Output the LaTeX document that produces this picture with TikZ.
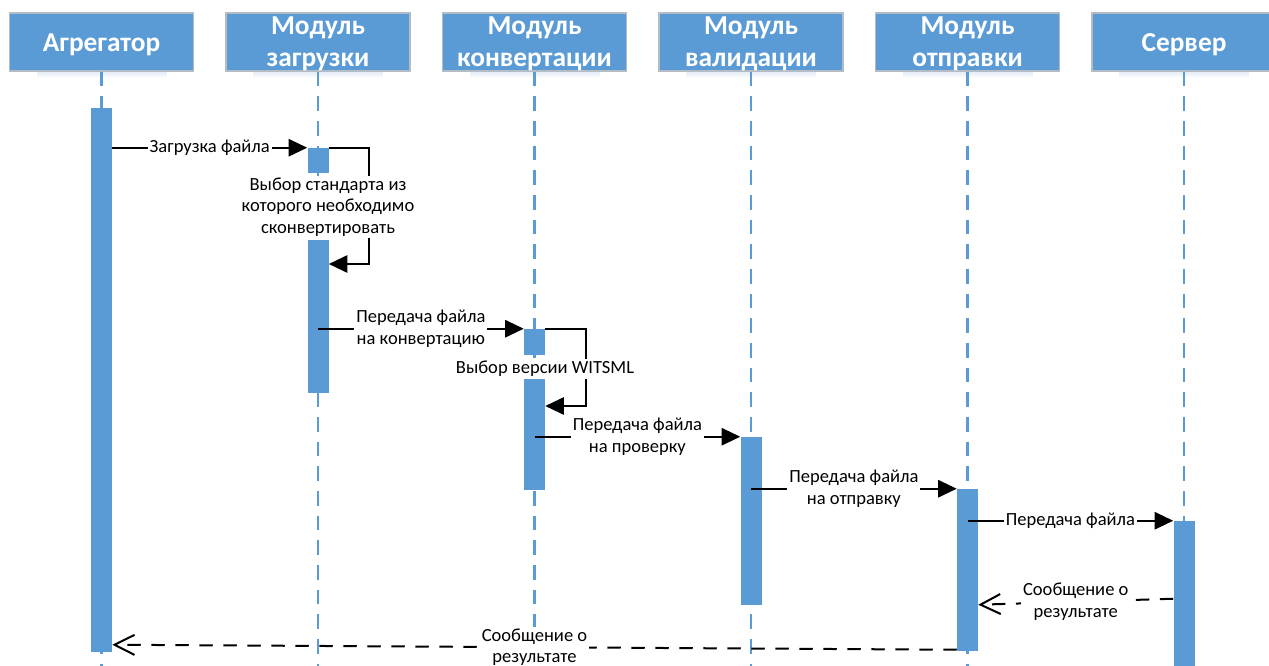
\documentclass[tikz,border=0pt]{standalone}
\usepackage{fontspec}
\setmainfont{Carlito}
\usetikzlibrary{arrows.meta,fit,calc,fadings}
\definecolor{boxblue}{HTML}{5B9BD5}
\definecolor{boxedge}{HTML}{B4BCC6}
\definecolor{shade}{HTML}{A9C3E3}

\begin{document}
\begin{tikzpicture}[x=0.75pt,y=-0.75pt,
  hdr/.style={draw=boxedge, line width=0.9pt, fill=boxblue, inner sep=0pt},
  hdrtxt/.style={text=white, font=\fontsize{20.5}{24}\selectfont\bfseries, inner sep=0pt},
  hdrshade/.style={fill=shade, opacity=0.35, path fading=south},
  life/.style={draw=boxblue, line width=1.6pt, dash pattern=on 11pt off 7.5pt},
  actbar/.style={fill=boxblue, draw=none, inner sep=0pt},
  msg/.style={draw=black, line width=1.5pt, -{Triangle[length=14pt,width=13pt]}},
  reply/.style={draw=black, line width=1.5pt, dash pattern=on 10pt off 8pt,
    -{Straight Barb[length=15pt,width=15pt,line width=1.5pt]}},
  lbl/.style={fill=white, inner sep=1.5pt, font=\fontsize{13.9}{16}\selectfont, align=center},
]
\useasboundingbox (0,0) rectangle (1269,666);
\clip (0,0) rectangle (1269,666);
\coordinate (bottomedge) at (0,680);

% soft shadows under the header boxes
\foreach \cx in {101.5,318,534.5,751,967.5,1184}
  \fill[hdrshade] (\cx-65,71) rectangle (\cx+65,78);

% header boxes
\node[hdr, fit={(9.5,13) (193.5,71)}]   (hAgg) {};
\node[hdr, fit={(226,13) (410,71)}]     (hZag) {};
\node[hdr, fit={(442.5,13) (626.5,71)}] (hKon) {};
\node[hdr, fit={(659,13) (843,71)}]     (hVal) {};
\node[hdr, fit={(875.5,13) (1059.5,71)}] (hOtp) {};
\node[hdr, fit={(1092,13) (1276,71)}]   (hSrv) {};

% header captions
\node[hdrtxt, anchor=base] (tAgg)  at (101.5,52) {Агрегатор};
\node[hdrtxt, anchor=base] (tZag1) at (318,35)   {Модуль};
\node[hdrtxt, anchor=base] (tZag2) at (318,67)   {загрузки};
\node[hdrtxt, anchor=base] (tKon1) at (534.5,35) {Модуль};
\node[hdrtxt, anchor=base] (tKon2) at (534.5,67) {конвертации};
\node[hdrtxt, anchor=base] (tVal1) at (751,35)   {Модуль};
\node[hdrtxt, anchor=base] (tVal2) at (751,67)   {валидации};
\node[hdrtxt, anchor=base] (tOtp1) at (967.5,35) {Модуль};
\node[hdrtxt, anchor=base] (tOtp2) at (967.5,67) {отправки};
\node[hdrtxt, anchor=base] (tSrv)  at (1184,52)  {Сервер};

% lifelines
\foreach \h in {hAgg,hZag,hKon,hVal,hOtp,hSrv}
  \draw[life] (\h.south) -- (\h.south |- bottomedge);

% activation bars
\node[actbar, fit={(91,108) (112,652)}]     (aggBar) {};
\node[actbar, fit={(307.5,148) (328.5,173)}] (zagA) {};
\node[actbar, fit={(307.5,240) (328.5,393)}] (zagB) {};
\node[actbar, fit={(524,329) (545,355)}]     (konA) {};
\node[actbar, fit={(524,378) (545,490)}]     (konB) {};
\node[actbar, fit={(740.5,437) (761.5,605)}] (valBar) {};
\node[actbar, fit={(957,489) (978,651)}]     (otpBar) {};
\node[actbar, fit={(1173.5,521) (1194.5,680)}] (srvBar) {};

% self-call turning points
\coordinate (loopA) at (369,264);
\coordinate (loopB) at (586,406);

% messages
\draw[msg] (aggBar.east |- zagA.north) -- node[lbl] (m1) {Загрузка файла} (zagA.north west);

\draw[msg] (zagA.north east) -| (loopA) -- (zagB.east |- loopA);
\node[lbl] (m2) at (328,207) {Выбор стандарта из\\которого необходимо\\сконвертировать};

\draw[msg] (zagB.center |- konA.north) -- node[lbl] (m3) {Передача файла\\на конвертацию} (konA.north west);

\draw[msg] (konA.north east) -| (loopB) -- (konB.east |- loopB);
\node[lbl] (m4) at (545,369) {Выбор версии WITSML};

\draw[msg] (konB.center |- valBar.north) -- node[lbl] (m5) {Передача файла\\на проверку} (valBar.north west);
\draw[msg] (valBar.center |- otpBar.north) -- node[lbl] (m6) {Передача файла\\на отправку} (otpBar.north west);
\draw[msg] (otpBar.center |- srvBar.north) -- node[lbl] (m7) {Передача файла} (srvBar.north west);

% replies
\draw[reply] ($(srvBar.north west)+(0,78)$) -- node[lbl] (r1) {Сообщение о\\результате} ($(otpBar.north east)+(0,116)$);
\draw[reply] ($(otpBar.north west)+(0,161)$) -- node[lbl] (r2) {Сообщение о\\результате} ($(aggBar.north east)+(0,537)$);
\end{tikzpicture}
\end{document}
